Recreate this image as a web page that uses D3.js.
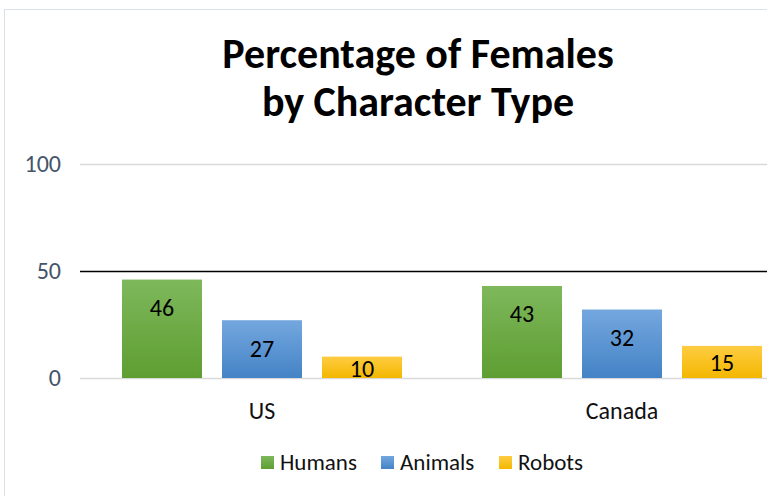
<!DOCTYPE html>
<html>
<head>
<meta charset="utf-8">
<script src="https://cdn.jsdelivr.net/npm/d3@7"></script>
<style>
  body { margin: 0; background: #fff; }
  svg { display: block; font-family: Carlito, Lato, sans-serif; }
</style>
</head>
<body>
<div id="chart"></div>
<script>
// data
const categories = ["US", "Canada"];
const seriesNames = ["Humans", "Animals", "Robots"];
const humans = [46, 43];
const animals = [27, 32];
const robots = [10, 15];
const yTicks = [0, 50, 100];
const refLine = 50;
const titleLines = ["Percentage of Females", "by Character Type"];

const seriesValues = [humans, animals, robots];
const colors = [
    { id: "gGreen", top: "#7eb85c", bottom: "#5e9e31" },
    { id: "gBlue", top: "#74a7de", bottom: "#4483c6" },
    { id: "gYellow", top: "#ffcc42", bottom: "#f3b700" }
];

let width = 767, height = 496;
let svg = d3.select("#chart").append("svg")
    .attr("width", width)
    .attr("height", height);

let defs = svg.append("defs");
colors.forEach(c => {
    let g = defs.append("linearGradient").attr("id", c.id)
        .attr("x1", 0).attr("y1", 0).attr("x2", 0).attr("y2", 1);
    g.append("stop").attr("offset", "0%").attr("stop-color", c.top);
    g.append("stop").attr("offset", "100%").attr("stop-color", c.bottom);
});

// chart frame (cropped on the right and bottom)
svg.append("rect")
    .attr("x", 4.5).attr("y", 9.5)
    .attr("width", 800).attr("height", 520)
    .attr("fill", "none")
    .attr("stroke", "#dbe1e8");

// title, one text per line
svg.append("g").selectAll("text").data(titleLines).enter().append("text")
    .attr("x", 418)
    .attr("y", (d, i) => 68 + i * 48)
    .attr("text-anchor", "middle")
    .style("font-size", "42px").style("font-weight", "bold")
    .text(d => d);

// scales
let x0 = d3.scaleBand().domain(categories).range([82, 802]);
let x1 = d3.scaleBand().domain(seriesNames).range([40, 320]).paddingInner(0.2);
let y = d3.scaleLinear().domain([0, 100]).range([378, 164]);

// gridlines
svg.append("g").selectAll("line").data(yTicks).enter().append("line")
    .attr("x1", 80).attr("x2", 767)
    .attr("y1", d => Math.round(y(d)) + 0.5).attr("y2", d => Math.round(y(d)) + 0.5)
    .attr("stroke", d => d === refLine ? "#000" : "#d9d9d9")
    .attr("stroke-width", 1.5);

// y axis labels
svg.append("g").selectAll("text").data(yTicks).enter().append("text")
    .attr("x", 61).attr("y", d => y(d))
    .attr("dy", "0.35em")
    .attr("text-anchor", "end")
    .attr("fill", "#44546a")
    .style("font-size", "24px")
    .text(d => d);

// bars
let groups = svg.append("g").selectAll("g").data(categories).enter().append("g")
    .attr("transform", d => `translate(${x0(d)},0)`);

groups.each(function (cat, ci) {
    let g = d3.select(this);
    seriesNames.forEach((s, si) => {
        let v = seriesValues[si][ci];
        let top = y(v), base = y(0);
        g.append("rect")
            .attr("x", x1(s))
            .attr("y", top)
            .attr("width", x1.bandwidth())
            .attr("height", base - top)
            .attr("fill", `url(#${colors[si].id})`);
        let ly = Math.min(top + 28, (top + base) / 2 + 1);
        g.append("text")
            .attr("x", x1(s) + x1.bandwidth() / 2)
            .attr("y", ly)
            .attr("dy", "0.35em")
            .attr("text-anchor", "middle")
            .style("font-size", "24px")
            .attr("fill", "#000")
            .text(v);
    });
});

// category labels
svg.append("g").selectAll("text").data(categories).enter().append("text")
    .attr("x", d => x0(d) + x0.bandwidth() / 2)
    .attr("y", 411)
    .attr("dy", "0.35em")
    .attr("text-anchor", "middle")
    .style("font-size", "24px")
    .attr("fill", "#111")
    .text(d => d);

// legend
const legendX = [261, 381, 499];
let legend = svg.append("g").selectAll("g").data(seriesNames).enter().append("g")
    .attr("transform", (d, i) => `translate(${legendX[i]},462)`);
legend.append("rect")
    .attr("x", 0).attr("y", -6)
    .attr("width", 13).attr("height", 13)
    .attr("fill", (d, i) => `url(#${colors[i].id})`);
legend.append("text")
    .attr("x", 19).attr("dy", "0.35em")
    .style("font-size", "23px")
    .attr("fill", "#111")
    .text(d => d);
</script>
</body>
</html>
